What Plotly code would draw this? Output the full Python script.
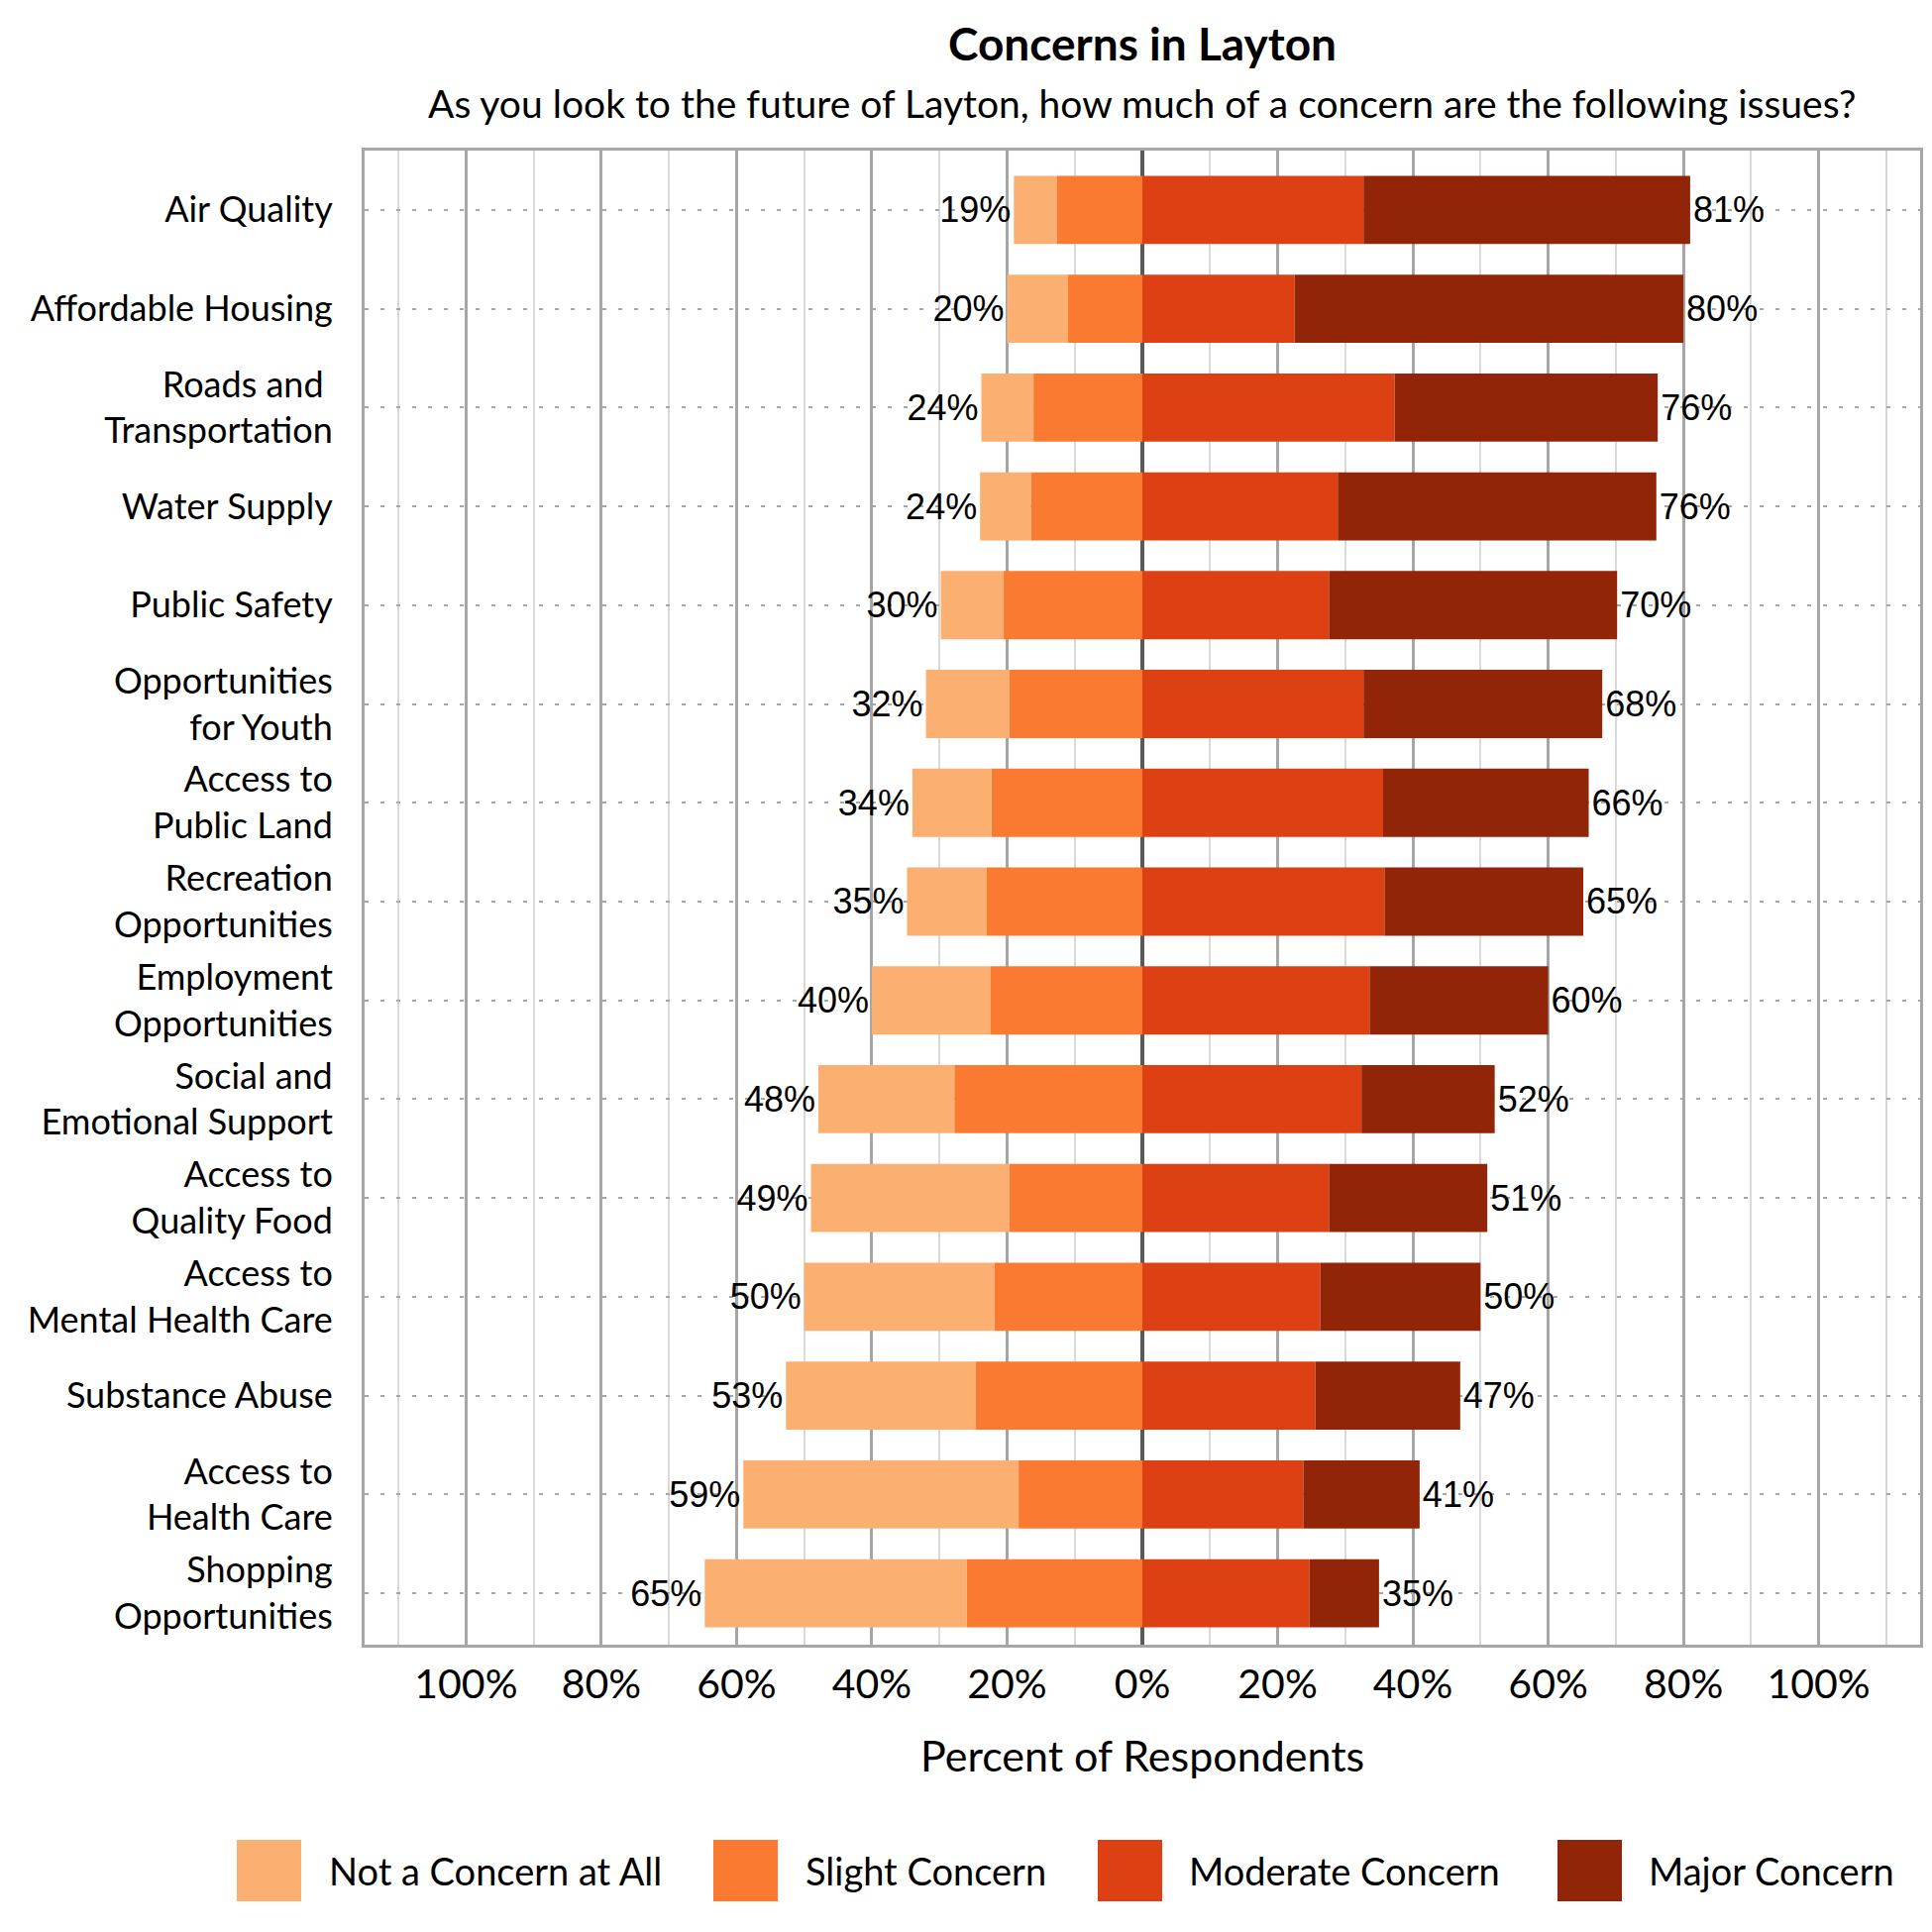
import plotly.graph_objects as go

categories = [
    "Air Quality", "Affordable Housing", "Roads and <br>Transportation", "Water Supply",
    "Public Safety", "Opportunities<br>for Youth", "Access to<br>Public Land",
    "Recreation<br>Opportunities", "Employment<br>Opportunities", "Social and<br>Emotional Support",
    "Access to<br>Quality Food", "Access to<br>Mental Health Care", "Substance Abuse",
    "Access to<br>Health Care", "Shopping<br>Opportunities",
]
not_concern = [6.4, 9.0, 7.7, 7.5, 9.3, 12.3, 11.7, 11.8, 17.5, 20.1, 29.3, 28.1, 28.0, 40.7, 38.7]
slight = [12.6, 11.0, 16.1, 16.5, 20.5, 19.7, 22.3, 23.0, 22.5, 27.8, 19.7, 21.9, 24.7, 18.3, 26.0]
moderate = [32.7, 22.5, 37.3, 28.9, 27.6, 32.7, 35.6, 35.8, 33.6, 32.4, 27.6, 26.3, 25.6, 23.8, 24.7]
major = [48.3, 57.5, 38.9, 47.1, 42.6, 35.3, 30.4, 29.4, 26.4, 19.7, 23.4, 23.7, 21.4, 17.2, 10.3]
left_labels = ["19%", "20%", "24%", "24%", "30%", "32%", "34%", "35%", "40%", "48%", "49%", "50%", "53%", "59%", "65%"]
right_labels = ["81%", "80%", "76%", "76%", "70%", "68%", "66%", "65%", "60%", "52%", "51%", "50%", "47%", "41%", "35%"]
series_names = ["Not a Concern at All", "Slight Concern", "Moderate Concern", "Major Concern"]
colors = ["#FBB072", "#FA7A32", "#DD4012", "#922508"]
tick_values = [-100, -80, -60, -40, -20, 0, 20, 40, 60, 80, 100]
tick_labels = ["100%", "80%", "60%", "40%", "20%", "0%", "20%", "40%", "60%", "80%", "100%"]

FONT = "Lato"
W, H = 1950, 1950
L, R, T, B = 360, 20, 144, 298

fig = go.Figure()
lab_font = dict(family="Liberation Sans", size=36, color="#000000")

fig.add_trace(go.Bar(y=categories, x=[-v for v in slight], orientation="h", name=series_names[1],
                     marker=dict(color=colors[1], line=dict(width=0)), width=0.69, showlegend=False))
fig.add_trace(go.Bar(y=categories, x=[-v for v in not_concern], orientation="h", name=series_names[0],
                     marker=dict(color=colors[0], line=dict(width=0)), width=0.69, showlegend=False,
                     text=left_labels, textposition="outside", textfont=lab_font,
                     constraintext="none", cliponaxis=False))
fig.add_trace(go.Bar(y=categories, x=moderate, orientation="h", name=series_names[2],
                     marker=dict(color=colors[2], line=dict(width=0)), width=0.69, showlegend=False))
fig.add_trace(go.Bar(y=categories, x=major, orientation="h", name=series_names[3],
                     marker=dict(color=colors[3], line=dict(width=0)), width=0.69, showlegend=False,
                     text=right_labels, textposition="outside", textfont=lab_font,
                     constraintext="none", cliponaxis=False))

pw = W - L - R
ph = H - T - B

def px_x(p):
    return (p - L) / pw

def px_y(p):
    return (H - B - p) / ph

shapes = []
annotations = []
# legend (manual, large swatches)
legend_sq_x = [231, 712, 1100, 1564]
legend_txt_x = [322, 803, 1190, 1654]
for i in range(4):
    shapes.append(dict(type="rect", xref="paper", yref="paper",
                       x0=px_x(legend_sq_x[i]), x1=px_x(legend_sq_x[i] + 65),
                       y0=px_y(1911), y1=px_y(1849),
                       fillcolor=colors[i], line=dict(width=0)))
    annotations.append(dict(text=series_names[i], xref="paper", yref="paper",
                            x=px_x(legend_txt_x[i]), y=px_y(1880), xanchor="left", yanchor="middle",
                            showarrow=False, font=dict(family=FONT, size=38, color="#000000")))

annotations.append(dict(text="As you look to the future of Layton, how much of a concern are the following issues?",
                        xref="paper", yref="paper", x=0.5, y=px_y(96), xanchor="center", yanchor="middle",
                        showarrow=False, font=dict(family=FONT, size=39, color="#000000")))
annotations.append(dict(text="Percent of Respondents",
                        xref="paper", yref="paper", x=0.5, y=px_y(1763), xanchor="center", yanchor="middle",
                        showarrow=False, font=dict(family=FONT, size=43, color="#000000")))

fig.update_layout(
    width=W, height=H,
    margin=dict(l=L, r=R, t=T, b=B),
    barmode="relative",
    bargap=0.31,
    paper_bgcolor="white", plot_bgcolor="white",
    title=dict(text="<b>Concerns in Layton</b>", x=0.5, xref="paper", xanchor="center",
               y=1 - 37 / H, yref="container", yanchor="middle",
               font=dict(family=FONT, size=46, color="#000000")),
    shapes=shapes,
    annotations=annotations,
    showlegend=False,
)
fig.update_xaxes(
    range=[-115, 115], tickvals=tick_values, ticktext=tick_labels,
    tickfont=dict(family=FONT, size=41, color="#000000"),
    showgrid=True, gridcolor="#A6A6A6", gridwidth=2.5,
    minor=dict(dtick=10, tick0=0, showgrid=True, gridcolor="#D9D9D9", gridwidth=2),
    zeroline=True, zerolinecolor="#595959", zerolinewidth=4,
    showline=True, linecolor="#A6A6A6", linewidth=3, mirror=True,
    ticks="", ticklabelstandoff=2,
)
fig.update_yaxes(
    tickfont=dict(family=FONT, size=36, color="#000000"),
    showgrid=True, gridcolor="#A6A6A6", gridwidth=2, griddash="4px,12px",
    showline=True, linecolor="#A6A6A6", linewidth=3, mirror=True,
    ticks="", ticklabelstandoff=22,
    autorange=False, range=[14.52, -0.6],
)

fig.write_html("out.html")
